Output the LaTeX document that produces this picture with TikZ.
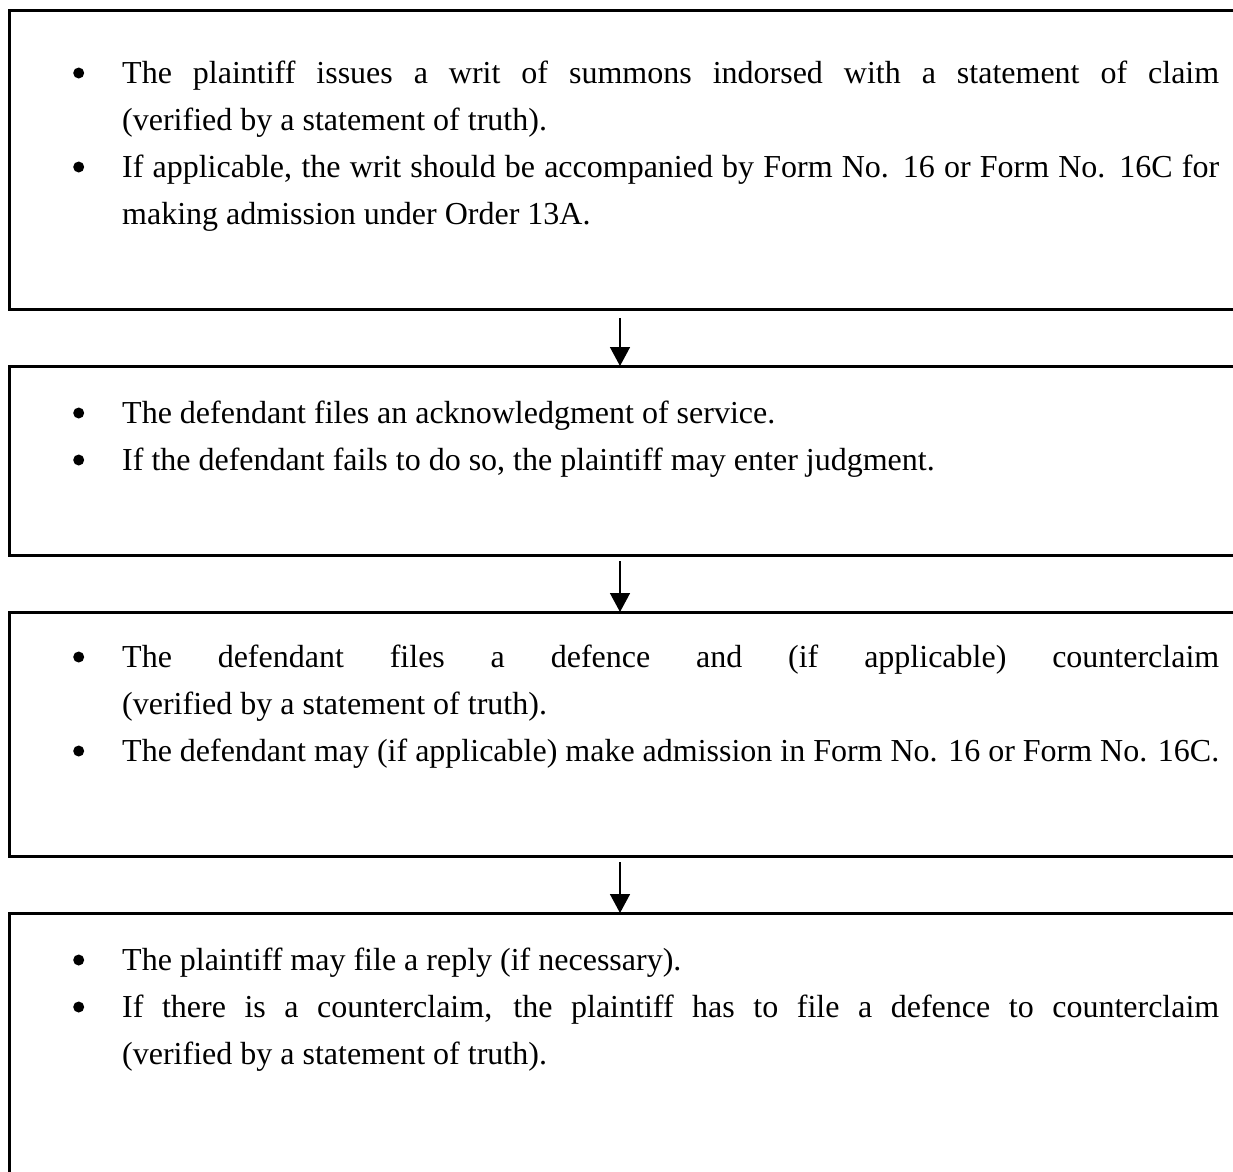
\documentclass[tikz,border=0pt]{standalone}
\usepackage{fontspec}
\setmainfont{Liberation Serif}
\usetikzlibrary{positioning, arrows.meta}
\hyphenpenalty=10000
\newcommand{\marcador}{\noindent\llap{\tikz[baseline=0pt]\fill (5.5pt,10pt) circle (5.5pt);\hspace{38pt}}}

\begin{document}
\begin{tikzpicture}[x=1pt, y=-1pt,
    etapa/.style={draw, line width=3pt, rectangle, inner sep=0pt, outer sep=0pt, minimum width=1260pt, anchor=north west},
    texto/.style={anchor=base west, inner sep=0pt, text width=1097pt, align=justify, font=\fontsize{32}{47}\selectfont},
    seta/.style={-{Triangle[width=20pt, length=19pt]}, line width=1.5pt}]
    % page frame
    \useasboundingbox (0,0) rectangle (1233,1171);
    \clip (0,0) rectangle (1233,1171);
    \fill[white] (0,0) rectangle (1233,1171);
    % boxes
    \node[etapa, minimum height=299pt] (box1) at (9,10) {};
    \node[etapa, minimum height=189pt] (box2) at (9,366) {};
    \node[etapa, minimum height=244pt] (box3) at (9,612) {};
    \node[etapa, minimum height=320pt] (box4) at (9,913) {};
    % texts
    \node[texto] (txt1) at (122,83) {\marcador The plaintiff issues a writ of summons indorsed with a statement of claim \linebreak (verified by a statement of truth).
      \par\marcador If applicable, the writ should be accompanied by Form No. 16 or Form No. 16C for \linebreak making admission under Order 13A.};
    \node[texto] (txt2) at (122,423) {\marcador The defendant files an acknowledgment of service.
      \par\marcador If the defendant fails to do so, the plaintiff may enter judgment.};
    \node[texto] (txt3) at (122,667) {\marcador The defendant files a defence and (if applicable) counterclaim \linebreak (verified by a statement of truth).
      \par\marcador The defendant may (if applicable) make admission in Form No. 16 or Form No. 16C.};
    \node[texto] (txt4) at (122,970) {\marcador The plaintiff may file a reply (if necessary).
      \par\marcador If there is a counterclaim, the plaintiff has to file a defence to counterclaim \linebreak (verified by a statement of truth).};
    % arrows between boxes
    \coordinate (s1) at (620,318);
    \coordinate (s2) at (620,561);
    \coordinate (s3) at (620,862);
    \draw[seta] (s1) -- (s1 |- box2.north);
    \draw[seta] (s2) -- (s2 |- box3.north);
    \draw[seta] (s3) -- (s3 |- box4.north);
\end{tikzpicture}
\end{document}
